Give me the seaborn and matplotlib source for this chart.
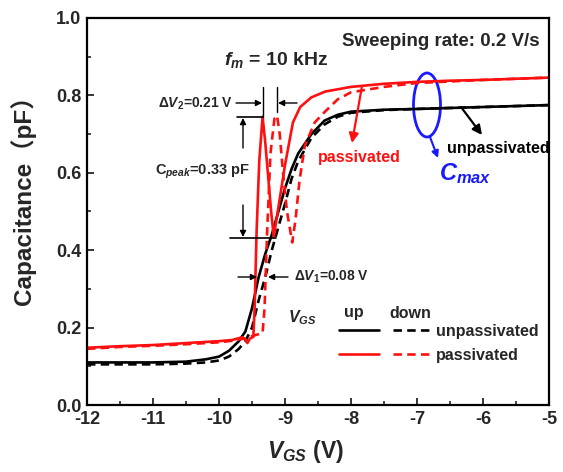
import numpy as np
import pandas as pd
import matplotlib
matplotlib.use("Agg")
import matplotlib.pyplot as plt
from matplotlib.patches import Ellipse
from matplotlib.lines import Line2D
import seaborn as sns

# ---------------- data ----------------
v_unpass_up = [-12, -11, -10.5, -10.2, -10.0, -9.85, -9.7, -9.6, -9.5, -9.4, -9.3, -9.2,
               -9.1, -9.0, -8.9, -8.8, -8.6, -8.4, -8.2, -8.0, -7.5, -7.0, -6.0, -5.0]
c_unpass_up = [0.110, 0.110, 0.112, 0.118, 0.125, 0.140, 0.165, 0.190, 0.250, 0.330, 0.390, 0.440,
               0.500, 0.560, 0.610, 0.650, 0.700, 0.735, 0.750, 0.758, 0.763, 0.765, 0.770, 0.775]

v_unpass_down = [-12, -11, -10.5, -10.2, -10.0, -9.85, -9.7, -9.6, -9.5, -9.4, -9.3, -9.2,
                 -9.1, -9.0, -8.9, -8.8, -8.6, -8.4, -8.2, -8.0, -7.5, -7.0, -6.0, -5.0]
c_unpass_down = [0.105, 0.105, 0.107, 0.110, 0.115, 0.125, 0.145, 0.165, 0.200, 0.270, 0.330, 0.400,
                 0.460, 0.520, 0.585, 0.630, 0.690, 0.725, 0.745, 0.755, 0.762, 0.765, 0.770, 0.775]

v_pass_up = [-12, -11.5, -11, -10.5, -10, -9.8, -9.65, -9.6, -9.57, -9.53, -9.48, -9.46, -9.43,
             -9.39, -9.34, -9.30, -9.25, -9.21, -9.17, -9.11, -9.0, -8.88, -8.77, -8.6, -8.39,
             -8.0, -7.5, -7.0, -6.5, -6.0, -5.5, -5.0]
c_pass_up = [0.148, 0.152, 0.155, 0.160, 0.165, 0.168, 0.175, 0.170, 0.160, 0.172, 0.176, 0.250, 0.450,
             0.630, 0.745, 0.680, 0.580, 0.500, 0.434, 0.500, 0.620, 0.730, 0.770, 0.795, 0.810,
             0.822, 0.830, 0.835, 0.838, 0.840, 0.843, 0.846]

v_pass_down = [-12, -11.5, -11, -10.5, -10, -9.8, -9.6, -9.5, -9.4, -9.34, -9.31, -9.27, -9.22,
               -9.16, -9.12, -9.08, -9.03, -8.97, -8.89, -8.84, -8.78, -8.70, -8.55, -8.4, -8.2,
               -8.0, -7.5, -7.0, -6.5, -6.0, -5.5, -5.0]
c_pass_down = [0.145, 0.150, 0.153, 0.157, 0.162, 0.166, 0.172, 0.178, 0.183, 0.186, 0.250, 0.450, 0.650,
               0.740, 0.748, 0.700, 0.600, 0.500, 0.420, 0.480, 0.580, 0.670, 0.730, 0.757, 0.790,
               0.808, 0.822, 0.832, 0.836, 0.840, 0.843, 0.846]

x_ticks = [-12, -11, -10, -9, -8, -7, -6, -5]
y_ticks = [0.0, 0.2, 0.4, 0.6, 0.8, 1.0]

# ---------------- style ----------------
sns.set_theme(style="ticks")
plt.rcParams["font.family"] = ["Liberation Sans", "Noto Sans CJK SC", "DejaVu Sans"]
plt.rcParams["font.weight"] = "bold"
plt.rcParams["mathtext.fontset"] = "custom"
plt.rcParams["mathtext.rm"] = "Liberation Sans:bold"
plt.rcParams["mathtext.it"] = "Liberation Sans:italic:bold"
plt.rcParams["mathtext.bf"] = "Liberation Sans:bold"
plt.rcParams["mathtext.sf"] = "Liberation Sans:bold"

RED = "#ff1010"
BLUE = "#1a1aff"

fig = plt.figure(figsize=(5.63, 4.72), dpi=100)
ax = fig.add_axes([87 / 563, 1 - 405 / 472, (549 - 87) / 563, (405 - 18) / 472])

dash = (0, (3.2, 2.0))
curves = [
    (v_unpass_up, c_unpass_up, "black", "-"),
    (v_unpass_down, c_unpass_down, "black", dash),
    (v_pass_up, c_pass_up, RED, "-"),
    (v_pass_down, c_pass_down, RED, dash),
]
for v, c, col, ls in curves:
    df = pd.DataFrame({"V": v, "C": c})
    sns.lineplot(data=df, x="V", y="C", ax=ax, color=col, linestyle=ls, lw=1.9,
                 estimator=None, sort=False, legend=False)

ax.set_xlim(-12, -5)
ax.set_ylim(0.0, 1.0)
ax.set_xticks(x_ticks)
ax.set_xticklabels([str(t) for t in x_ticks])
ax.set_yticks(y_ticks)
ax.set_yticklabels([f"{t:.1f}" for t in y_ticks])
ax.set_xticks(np.arange(-11.5, -5, 1.0), minor=True)
ax.set_yticks(np.arange(0.1, 1.0, 0.2), minor=True)
ax.tick_params(which="major", direction="in", length=5, width=1.3, labelsize=13, pad=4)
ax.tick_params(which="minor", direction="in", length=3, width=1.2)
for lab in ax.get_xticklabels() + ax.get_yticklabels():
    lab.set_fontweight("bold")
for s in ax.spines.values():
    s.set_linewidth(1.6)
    s.set_color("black")

ax.set_xlabel(r"$V_{GS}$ (V)", fontsize=16.5, fontweight="bold")
ax.xaxis.set_label_coords((305 - 87) / 462, -0.085)
ax.set_ylabel("Capacitance（pF）", fontsize=17.5, fontweight="bold")
ax.yaxis.set_label_coords((36 - 87) / 462, 0.545)


def px(x, y):
    return -12 + (x - 87) / 66.0, (405 - y) / 387.0


arr = dict(arrowstyle="-|>", color="black", lw=1.0, mutation_scale=9, shrinkA=0, shrinkB=0)

# Sweeping rate and f_m
ax.text(*px(441, 42), "Sweeping rate: 0.2 V/s", fontsize=13.5, fontweight="bold",
        ha="center", va="center")
ax.text(*px(276, 60), r"$f_m$" + " = 10 kHz", fontsize=14, fontweight="bold",
        ha="center", va="center")

# Delta V2
ax.text(*px(233, 104), r"$\Delta V_2$" + "=0.21 V", fontsize=10, fontweight="bold",
        ha="right", va="center")
ax.annotate("", xy=px(262, 103), xytext=px(236, 103), arrowprops=arr)
ax.annotate("", xy=px(278, 103), xytext=px(297, 103), arrowprops=arr)
ax.plot(*zip(px(263, 87), px(263, 117)), color="black", lw=1.0)
ax.plot(*zip(px(277, 87), px(277, 112)), color="black", lw=1.0)
ax.plot(*zip(px(237, 117), px(263, 117)), color="black", lw=1.2)

# C_peak
ax.annotate("", xy=px(243, 118), xytext=px(243, 148), arrowprops=arr)
ax.text(*px(202, 172), r"C$_{peak}$" + "=0.33 pF", fontsize=10.5, fontweight="bold",
        ha="center", va="center")
ax.annotate("", xy=px(243, 237), xytext=px(243, 205), arrowprops=arr)
ax.plot(*zip(px(230, 238), px(276, 238)), color="black", lw=1.2)

# Delta V1
ax.annotate("", xy=px(257, 277), xytext=px(238, 277), arrowprops=arr)
ax.annotate("", xy=px(268, 277), xytext=px(288, 277), arrowprops=arr)
ax.text(*px(294, 277), r"$\Delta V_1$" + "=0.08 V", fontsize=10, fontweight="bold",
        ha="left", va="center")

# passivated / unpassivated labels
ax.annotate("", xy=px(352, 143), xytext=px(362, 86),
            arrowprops=dict(arrowstyle="-|>", color=RED, lw=1.6, mutation_scale=14,
                            shrinkA=0, shrinkB=0))
ax.text(*px(359, 157), "passivated", color=RED, fontsize=11.5, fontweight="bold",
        ha="center", va="center")
ax.annotate("", xy=px(482, 135), xytext=px(461, 107),
            arrowprops=dict(arrowstyle="-|>", color="black", lw=1.6, mutation_scale=14,
                            shrinkA=0, shrinkB=0))
ax.text(*px(498, 148), "unpassivated", color="black", fontsize=11.5, fontweight="bold",
        ha="center", va="center")

# C_max ellipse
cx, cy = px(427, 105)
ax.add_patch(Ellipse((cx, cy), 27 / 66.0, 64 / 387.0, fill=False, edgecolor=BLUE, lw=2.0))
ax.annotate("", xy=px(438, 158), xytext=px(430, 137),
            arrowprops=dict(arrowstyle="-|>", color=BLUE, lw=1.5, mutation_scale=10,
                            shrinkA=0, shrinkB=0))
ax.text(*px(439, 174), r"$C_{max}$", color=BLUE, fontsize=17, ha="left", va="center")

# legend
ax.text(*px(302, 318), r"$V_{GS}$", fontsize=11.5, ha="center", va="center")
ax.text(*px(354, 313), "up", fontsize=11.5, fontweight="bold", ha="center", va="center")
ax.text(*px(410, 313), "down", fontsize=11.5, fontweight="bold", ha="center", va="center")
handles = [Line2D([], [], color="black", lw=1.9, ls="-"),
           Line2D([], [], color=RED, lw=1.9, ls="-"),
           Line2D([], [], color="black", lw=1.9, ls=dash),
           Line2D([], [], color=RED, lw=1.9, ls=dash)]
labels = ["", "", "unpassivated", "passivated"]
leg = ax.legend(handles, labels, ncol=2, frameon=False, loc="upper left",
                bbox_to_anchor=((339 - 87) / 462, (405 - 324) / 387), borderpad=0,
                borderaxespad=0, handlelength=2.5, handletextpad=0.15, columnspacing=0.75,
                labelspacing=0.55, prop={"weight": "bold", "size": 11.5})

fig.savefig("out.png", dpi=100)
